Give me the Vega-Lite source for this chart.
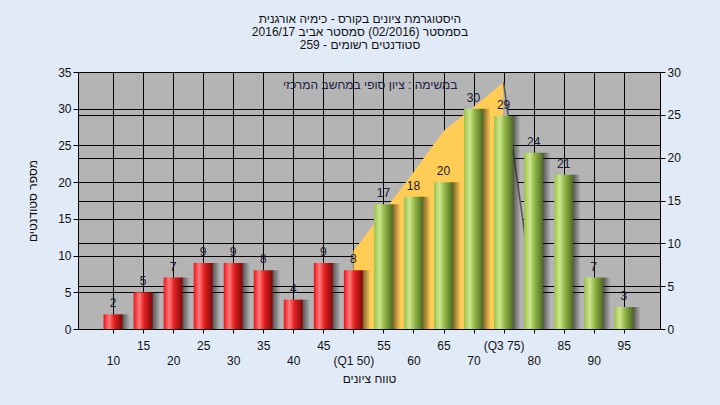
{
  "$schema": "https://vega.github.io/schema/vega-lite/v6.json",
  "width": 582,
  "height": 257,
  "autosize": {"type": "none"},
  "padding": {"left": 78, "top": 72, "right": 60, "bottom": 76},
  "background": "#e1ebf7",
  "config": {
    "font": "Liberation Sans",
    "view": {"fill": "#b4b4b4", "stroke": null}
  },
  "title": {
    "text": "היסטוגרמת ציונים בקורס - כימיה אורגנית",
    "subtitle": ["בסמסטר  (02/2016)  סמסטר אביב 2016/17", "סטודנטים רשומים - 259"],
    "fontSize": 12,
    "subtitleFontSize": 12,
    "fontWeight": "normal",
    "subtitleFontWeight": "normal",
    "color": "#111111",
    "subtitleColor": "#111111",
    "lineHeight": 13.5,
    "subtitleLineHeight": 13.5,
    "subtitlePadding": 1,
    "anchor": "middle",
    "dx": -9,
    "offset": 14
  },
  "datasets": {
    "hist": [
      {"grade": 10, "count": 2}, {"grade": 15, "count": 5}, {"grade": 20, "count": 7},
      {"grade": 25, "count": 9}, {"grade": 30, "count": 9}, {"grade": 35, "count": 8},
      {"grade": 40, "count": 4}, {"grade": 45, "count": 9}, {"grade": 50, "count": 8},
      {"grade": 55, "count": 17}, {"grade": 60, "count": 18}, {"grade": 65, "count": 20},
      {"grade": 70, "count": 30}, {"grade": 75, "count": 29}, {"grade": 80, "count": 24},
      {"grade": 85, "count": 21}, {"grade": 90, "count": 7}, {"grade": 95, "count": 3}
    ],
    "cum": [
      {"grade": 50, "value": 9.1}, {"grade": 55, "value": 13.7}, {"grade": 60, "value": 18.3},
      {"grade": 65, "value": 23.1}, {"grade": 70, "value": 25.9}, {"grade": 75, "value": 28.8}
    ],
    "side": [
      {"grade": 75, "value": 28.8}, {"grade": 78.5, "value": 11.2}, {"grade": 80.6, "value": 0}
    ],
    "note": [
      {"grade": 52.8, "count": 33.2, "text": "במשימה : ציון סופי במחשב המרכזי"}
    ]
  },
  "encoding": {
    "x": {
      "field": "grade",
      "type": "quantitative",
      "scale": {"domain": [5, 100.2], "nice": false, "zero": false},
      "axis": {
        "values": [10, 15, 20, 25, 30, 35, 40, 45, 50, 55, 60, 65, 70, 75, 80, 85, 90, 95],
        "labelExpr": "datum.value % 10 == 0 ? ['', (datum.value == 50 ? '(Q1 50)' : datum.label)] : (datum.value == 75 ? '(Q3 75)' : datum.label)",
        "labelOverlap": false,
        "labelFlush": false,
        "labelBound": false,
        "labelFontSize": 12,
        "labelLineHeight": 15,
        "labelColor": "#111111",
        "labelPadding": 7,
        "grid": true,
        "gridColor": "#000000",
        "gridWidth": 1,
        "gridOpacity": 1,
        "domainColor": "#000000",
        "tickColor": "#000000",
        "tickSize": 4,
        "title": "טווח ציונים",
        "titleFontSize": 12,
        "titleFontWeight": "normal",
        "titleColor": "#111111",
        "titlePadding": 7
      }
    }
  },
  "layer": [
    {
      "encoding": {
        "y": {
          "field": "value",
          "type": "quantitative",
          "scale": {"domain": [0, 30], "nice": false},
          "axis": {
            "orient": "right",
            "values": [0, 5, 10, 15, 20, 25, 30],
            "grid": true,
            "gridColor": "#000000",
            "gridWidth": 1,
            "gridOpacity": 1,
            "domainColor": "#000000",
            "tickColor": "#000000",
            "tickSize": 5,
            "labelFontSize": 12,
            "labelColor": "#111111",
            "labelPadding": 2,
            "title": null
          }
        }
      },
      "layer": [
        {"data": {"name": "cum"}, "mark": {"type": "area", "color": "#ffcc55", "opacity": 1}},
        {"data": {"name": "side"}, "mark": {"type": "area", "color": "#b0b0b0", "opacity": 1}},
        {"data": {"name": "side"}, "mark": {"type": "line", "color": "#555555", "strokeWidth": 1.5}}
      ]
    },
    {
      "data": {"name": "hist"},
      "encoding": {
        "y": {
          "field": "count",
          "type": "quantitative",
          "scale": {"domain": [0, 35], "nice": false},
          "axis": {
            "orient": "left",
            "values": [0, 5, 10, 15, 20, 25, 30, 35],
            "grid": true,
            "gridColor": "#000000",
            "gridWidth": 1,
            "gridOpacity": 1,
            "domainColor": "#000000",
            "tickColor": "#000000",
            "tickSize": 5,
            "labelFontSize": 12,
            "labelColor": "#111111",
            "labelPadding": 2,
            "title": "מספר סטודנטים",
            "titleFontSize": 12,
            "titleFontWeight": "normal",
            "titleColor": "#111111",
            "titlePadding": 18
          }
        }
      },
      "layer": [
        {
          "mark": {
            "type": "bar",
            "size": 8,
            "xOffset": 13,
            "color": {"gradient": "linear", "x1": 0, "x2": 1, "y1": 0, "y2": 0,
              "stops": [{"offset": 0, "color": "rgba(0,0,0,0.55)"}, {"offset": 1, "color": "rgba(0,0,0,0)"}]}
          }
        },
        {
          "transform": [{"filter": "datum.grade <= 50"}],
          "mark": {
            "type": "bar",
            "size": 19,
            "color": {"gradient": "linear", "x1": 0, "x2": 1, "y1": 0, "y2": 0,
              "stops": [
                {"offset": 0, "color": "#e8141c"},
                {"offset": 0.3, "color": "#ff7a7a"},
                {"offset": 0.55, "color": "#e62020"},
                {"offset": 1, "color": "#7a0a0a"}
              ]}
          }
        },
        {
          "transform": [{"filter": "datum.grade > 50"}],
          "mark": {
            "type": "bar",
            "size": 19,
            "color": {"gradient": "linear", "x1": 0, "x2": 1, "y1": 0, "y2": 0,
              "stops": [
                {"offset": 0, "color": "#9cc24a"},
                {"offset": 0.3, "color": "#cde68e"},
                {"offset": 0.55, "color": "#94b848"},
                {"offset": 1, "color": "#4f6a22"}
              ]}
          }
        },
        {
          "mark": {"type": "text", "fontSize": 12, "color": "#1a1a30", "baseline": "alphabetic", "dy": -7},
          "encoding": {"text": {"field": "count", "type": "quantitative"}}
        },
        {
          "data": {"name": "note"},
          "mark": {"type": "text", "fontSize": 12, "color": "#202040", "align": "center", "baseline": "middle"},
          "encoding": {"text": {"field": "text", "type": "nominal"}}
        }
      ]
    }
  ],
  "resolve": {"scale": {"y": "independent"}}
}
